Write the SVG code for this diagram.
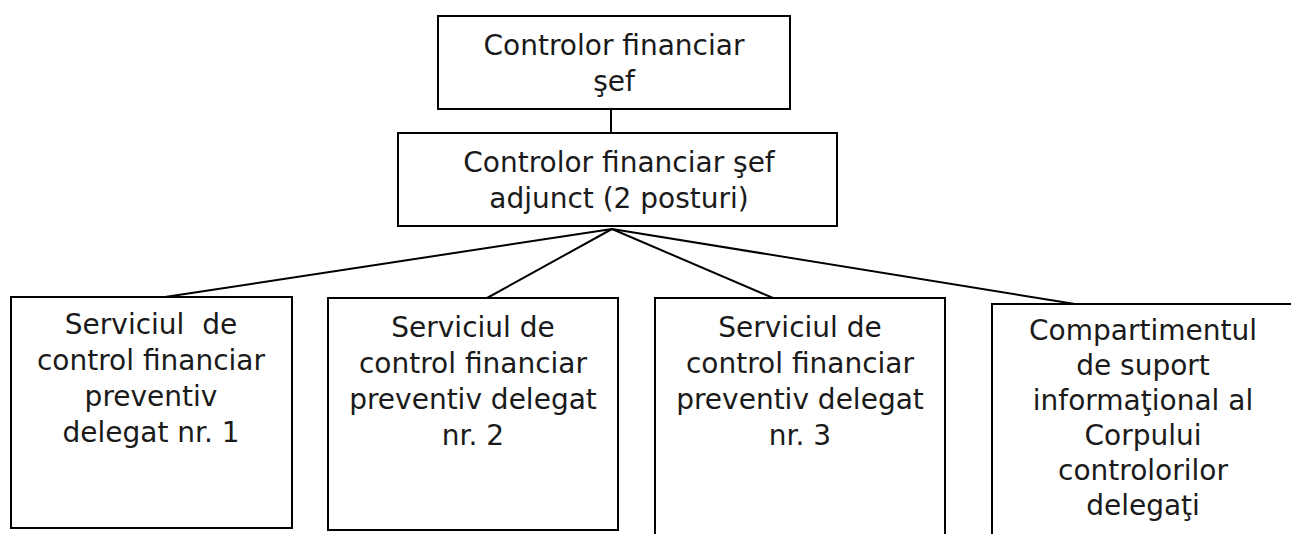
<svg xmlns="http://www.w3.org/2000/svg" width="1291" height="534" viewBox="0 0 1291 534">
<style>
.box{fill:#fff;stroke:#000;stroke-width:2}
.t{font-family:"DejaVu Sans",Verdana,sans-serif;font-size:28px;fill:#1a1a1a;text-anchor:middle;white-space:pre}
.c{stroke:#000;stroke-width:2;fill:none}
</style>
<rect width="1291" height="534" fill="#fff"/>
<g id="connectors">
<line class="c" x1="611" y1="109" x2="611" y2="133"/>
<line class="c" x1="612" y1="229" x2="165" y2="297"/>
<line class="c" x1="612" y1="229" x2="487" y2="298"/>
<line class="c" x1="612" y1="229" x2="773" y2="298"/>
<line class="c" x1="612" y1="229" x2="1075" y2="304"/>
</g>
<g id="n-sef">
<rect class="box" x="438" y="16" width="352" height="93"/>
<text class="t" x="614" y="55">Controlor financiar</text>
<text class="t" x="614" y="91">şef</text>
</g>
<g id="n-adjunct">
<rect class="box" x="398" y="133" width="439" height="93"/>
<text class="t" x="619" y="172">Controlor financiar şef</text>
<text class="t" x="619" y="208">adjunct (2 posturi)</text>
</g>
<g id="n-serv1">
<rect class="box" x="11" y="297" width="281" height="231"/>
<text class="t" x="151" y="334" xml:space="preserve">Serviciul  de</text>
<text class="t" x="151" y="370">control financiar</text>
<text class="t" x="151" y="406">preventiv</text>
<text class="t" x="151" y="442">delegat nr. 1</text>
</g>
<g id="n-serv2">
<rect class="box" x="328" y="298" width="290" height="232"/>
<text class="t" x="473" y="337">Serviciul de</text>
<text class="t" x="473" y="373">control financiar</text>
<text class="t" x="473" y="409">preventiv delegat</text>
<text class="t" x="473" y="445">nr. 2</text>
</g>
<g id="n-serv3">
<rect class="box" x="655" y="298" width="290" height="250"/>
<text class="t" x="800" y="337">Serviciul de</text>
<text class="t" x="800" y="373">control financiar</text>
<text class="t" x="800" y="409">preventiv delegat</text>
<text class="t" x="800" y="445">nr. 3</text>
</g>
<g id="n-comp">
<rect class="box" x="992" y="304" width="320" height="250"/>
<text class="t" x="1143" y="340">Compartimentul</text>
<text class="t" x="1143" y="375">de suport</text>
<text class="t" x="1143" y="410">informaţional al</text>
<text class="t" x="1143" y="445">Corpului</text>
<text class="t" x="1143" y="480">controlorilor</text>
<text class="t" x="1143" y="515">delegaţi</text>
</g>
</svg>
